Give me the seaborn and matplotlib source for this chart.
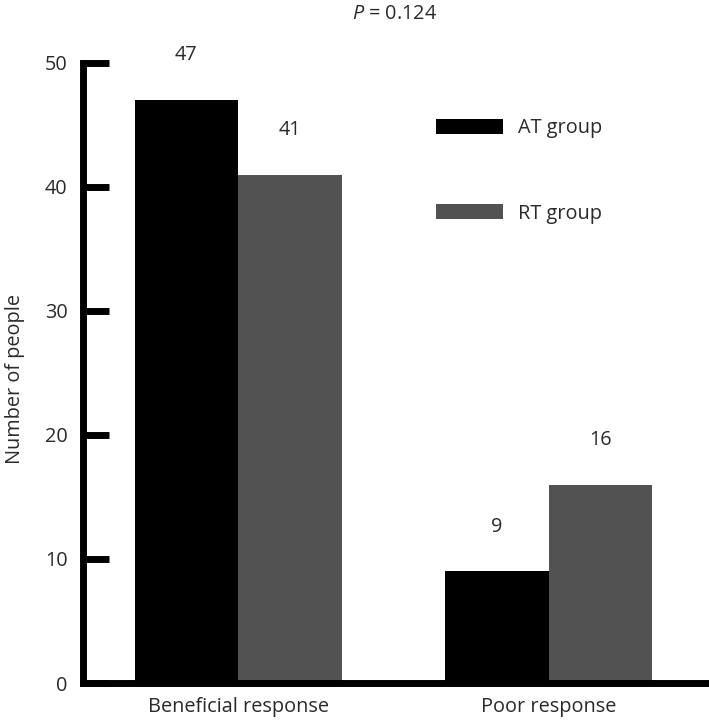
import pandas as pd
import matplotlib
matplotlib.use("Agg")
import matplotlib.pyplot as plt
import seaborn as sns

# data
categories = ["Beneficial response", "Poor response"]
groups = ["AT group", "RT group"]
at_values = [47, 9]
rt_values = [41, 16]
group_colors = ["#000000", "#525252"]
y_ticks = [0, 10, 20, 30, 40, 50]
p_label = "$P$ = 0.124"

df = pd.DataFrame({
    "response": categories * 2,
    "group": [groups[0]] * 2 + [groups[1]] * 2,
    "count": at_values + rt_values,
})

sns.set_style("white")
plt.rcParams["font.family"] = ["Open Sans", "DejaVu Sans"]
plt.rcParams["mathtext.fontset"] = "custom"
plt.rcParams["mathtext.rm"] = "Open Sans"
plt.rcParams["mathtext.it"] = "Open Sans:italic"
text_color = "#2a2a2a"
fs = 14.3

fig = plt.figure(figsize=(7.09, 7.21), dpi=100)
ax = fig.add_axes([0.117, 0.0527, 0.880, 0.860])

sns.barplot(data=df, x="response", y="count", hue="group", hue_order=groups,
            palette=group_colors, width=0.667, gap=0, saturation=1,
            linewidth=0, ax=ax)

ax.set_xlim(-0.50, 1.51)
ax.set_ylim(0, 50)
ax.set_yticks(y_ticks)

for c in ax.containers:
    ax.bar_label(c, padding=25, fontsize=fs, color=text_color)

ax.text(0.5, 1.079, p_label, transform=ax.transAxes, ha="center", va="center",
        fontsize=fs, color=text_color)

# spines and ticks
sns.despine(ax=ax, top=True, right=True)
for side in ["left", "bottom"]:
    ax.spines[side].set_linewidth(5)
    ax.spines[side].set_color("black")
ax.tick_params(axis="y", direction="in", length=19, width=5, color="black",
               pad=11, labelsize=fs, labelcolor=text_color, left=True)
ax.tick_params(axis="x", length=0, pad=10, labelsize=fs, labelcolor=text_color)

ax.set_xlabel("")
ax.set_ylabel("Number of people", fontsize=fs, color=text_color)
ax.yaxis.set_label_coords(-0.093, 0.49)

handles, labels = ax.get_legend_handles_labels()
ax.legend(handles, labels, loc="upper left", bbox_to_anchor=(0.566, 0.911),
          frameon=False, fontsize=fs, handlelength=3.37, handleheight=0.8,
          handletextpad=0.75, labelspacing=3.3, borderpad=0, borderaxespad=0,
          labelcolor=text_color)

fig.savefig("out.png", dpi=100)
